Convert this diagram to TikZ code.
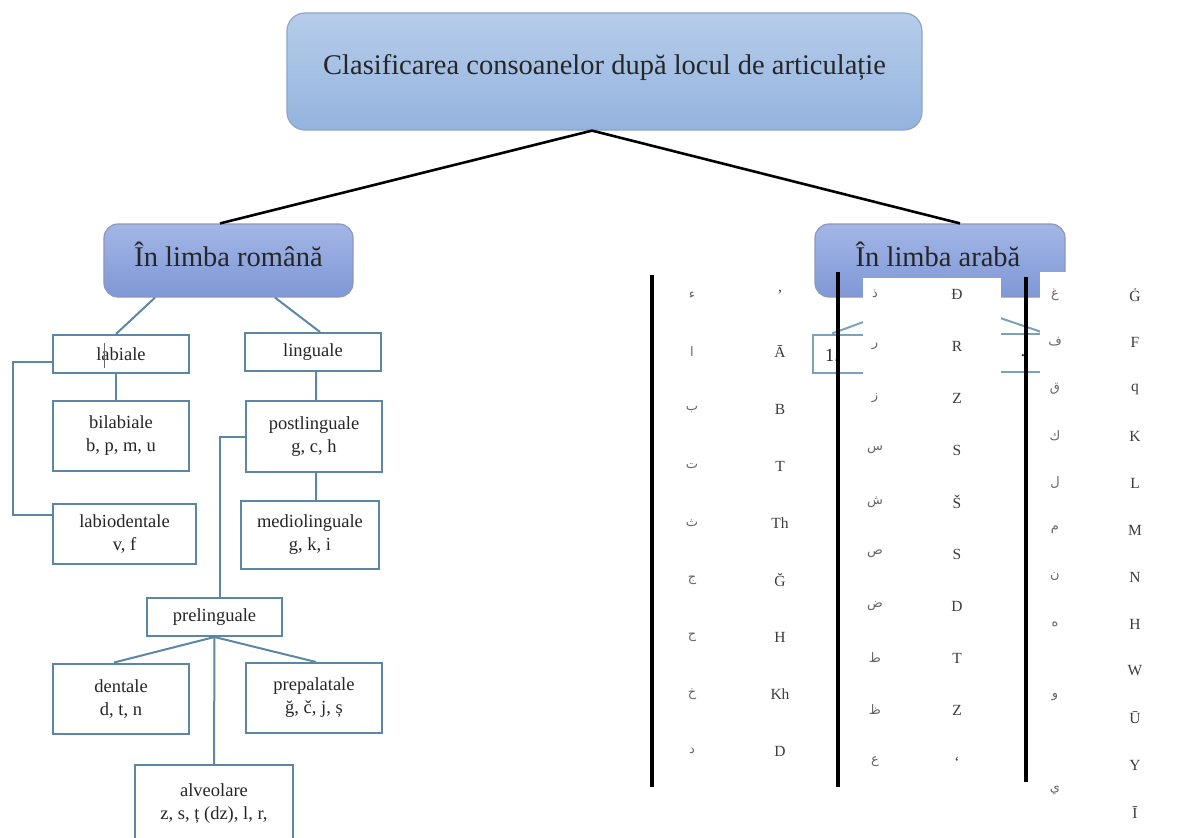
\documentclass[tikz,border=0pt]{standalone}
\usepackage{fontspec}
\setmainfont{Liberation Serif}
\newfontfamily\arabicfont[Script=Arabic]{DejaVu Sans}
\TeXXeTstate=1
\definecolor{titletop}{HTML}{B6CDEA}
\definecolor{titlebot}{HTML}{94B3DF}
\definecolor{titleedge}{HTML}{8EA6C6}
\definecolor{langtop}{HTML}{A3B6E6}
\definecolor{langbot}{HTML}{7F97D6}
\definecolor{langedge}{HTML}{8C98BC}
\definecolor{steel}{HTML}{5B87A5}
\definecolor{paleline}{HTML}{7AA2BC}
\definecolor{latgray}{HTML}{3C3C3C}
\definecolor{argray}{HTML}{666666}
\begin{document}
\begin{tikzpicture}[x=1bp,y=-1bp,
  titlebox/.style={draw=titleedge, line width=1.2bp, rounded corners=18bp,
    top color=titletop, bottom color=titlebot, inner sep=0pt},
  langbox/.style={draw=langedge, line width=1.2bp, rounded corners=14bp,
    top color=langtop, bottom color=langbot, inner sep=0pt},
  bigtext/.style={font=\fontsize{28.5bp}{34bp}\selectfont, text=black!85, inner sep=0pt},
  leaf/.style={draw=steel, line width=2bp, fill=white, inner sep=0pt, align=center,
    font=\fontsize{18.5bp}{23bp}\selectfont, text=black!85},
  conn/.style={draw=steel, line width=2bp},
  paleconn/.style={draw=paleline, line width=2bp},
  topline/.style={draw=black, line width=2.6bp},
  tabline/.style={draw=black, line width=4bp},
  lat/.style={font=\fontsize{15.5bp}{18bp}\selectfont, text=latgray, inner sep=0pt},
  arab/.style={font=\arabicfont\fontsize{13bp}{16bp}\selectfont, text=argray, inner sep=0pt},
  cover/.style={fill=white, draw=none}]
\useasboundingbox (0,0) rectangle (1200,838);
\clip (0,0) rectangle (1200,838);

% main heading and the two language branches
\node[titlebox, minimum width=635bp, minimum height=117bp] (title) at (604.5,71.5) {};
\node[bigtext] (titletext) at (604.5,67) {Clasificarea consoanelor după locul de articulație};
\node[langbox, minimum width=249bp, minimum height=73bp] (romana) at (228.5,260.5) {};
\node[bigtext] (romanatext) at (228.5,254) {În limba română};
\node[langbox, minimum width=250bp, minimum height=73bp] (araba) at (940,260.5) {};
\node[bigtext] (arabatext) at (938,254) {În limba arabă};

\draw[topline] ([xshift=-12.5bp]title.south) -- ([xshift=-8.5bp]romana.north);
\draw[topline] ([xshift=-12.5bp]title.south) -- ([xshift=20bp]araba.north);

% Romanian classification tree
\node[leaf, minimum width=136bp, minimum height=38bp] (labiale) at (121,354) {labiale};
\node[leaf, minimum width=136bp, minimum height=38bp] (linguale) at (313,352) {linguale};
\node[leaf, minimum width=136bp, minimum height=70bp] (bilabiale) at (121,436) {bilabiale\\b, p, m, u};
\node[leaf, minimum width=143bp, minimum height=60bp] (labiodentale) at (124.5,534) {labiodentale\\v, f};
\node[leaf, minimum width=136bp, minimum height=71bp] (postlinguale) at (314,436.5) {postlinguale\\g, c, h};
\node[leaf, minimum width=138bp, minimum height=68bp] (mediolinguale) at (310,535) {mediolinguale\\g, k, i};
\node[leaf, minimum width=135bp, minimum height=38bp] (prelinguale) at (214.5,617) {prelinguale};
\node[leaf, minimum width=136bp, minimum height=70bp] (dentale) at (121,698.5) {dentale\\d, t, n};
\node[leaf, minimum width=136bp, minimum height=70bp] (prepalatale) at (314,698) {prepalatale\\ğ, č, j, ș};
\node[leaf, minimum width=158bp, minimum height=78bp] (alveolare) at (214,804) {alveolare\\z, s, ț (dz), l, r,};
% caret mark inside the labiale box
\draw[black!60, line width=0.7bp] (104,343) -- (104,368);

\draw[conn] ([xshift=-73.5bp]romana.south) -- ([xshift=-5bp]labiale.north);
\draw[conn] ([xshift=46.5bp]romana.south) -- ([xshift=7bp]linguale.north);
\draw[conn] ([xshift=-5bp]labiale.south) -- ([xshift=-5bp]bilabiale.north);
\draw[conn] ([yshift=-8bp]labiale.west) -- ++(-39,0) |- ([yshift=19bp]labiodentale.west);
\draw[conn] ([xshift=3bp]linguale.south) -- ([xshift=2bp]postlinguale.north);
\draw[conn] ([xshift=2bp]postlinguale.south) -- ([xshift=6bp]mediolinguale.north);
\draw[conn] (postlinguale.west) -| ([xshift=5.5bp]prelinguale.north);
\draw[conn] (prelinguale.south) -- ([xshift=-7bp]dentale.north);
\draw[conn] (prelinguale.south) -- ([xshift=2bp]prepalatale.north);
\draw[conn] (prelinguale.south) -- (alveolare.north);

% Arabic branch (mostly hidden behind the letter table)
\node[leaf, draw=paleline, minimum width=130bp, minimum height=38bp] (arleft) at (878,353.5) {};
\node[leaf, draw=paleline, minimum width=140bp, minimum height=38bp] (arright) at (1030,352.5) {};
\draw[paleconn] ([xshift=-10bp]araba.south) -- ([xshift=-46bp]arleft.north);
\draw[paleconn] (araba.south) -- ([xshift=13bp]arright.north);
\node[leaf, draw=none, fill=none, anchor=west] (arlefttext) at (824,356) {1.};
\node[leaf, draw=none, fill=none] (arrighttext) at (1023,356) {.};

% letter table sheets
\fill[cover] (863,278) rectangle (1001,838);
\fill[cover] (1040,272) rectangle (1200,838);

% first column: Arabic letter and transliteration
\foreach \ar/\la [count=\i from 0] in {ء/’, ا/Ā, ب/B, ت/T, ث/Th, ج/Ğ, ح/H, خ/Kh, د/D}{
  \node[arab] (aa\i) at (692,295+57*\i) {\beginR\ar\endR};
  \node[lat] (la\i) at (780,295+57*\i) {\la};
}
% second column
\foreach \ar/\la [count=\i from 0] in {ذ/Đ, ر/R, ز/Z, س/S, ش/Š, ص/S, ض/D, ط/T, ظ/Z, ع/‘}{
  \node[arab] (ab\i) at (875,294+52*\i) {\beginR\ar\endR};
  \node[lat] (lb\i) at (957,294+52*\i) {\la};
}
% third column
\foreach \ar [count=\i from 0] in {غ, ف, ق, ك, ل, م, ن, ه}{
  \node[arab] (ac\i) at (1055,295+47*\i) {\beginR\ar\endR};
}
\node[arab] (acw) at (1055,697) {\beginR و\endR};
\node[arab] (acy) at (1055,790) {\beginR ي\endR};
\foreach \la [count=\i from 0] in {Ġ, F, q, K, L, M, N, H, W, Ū, Y, Ī}{
  \node[lat] (lc\i) at (1135,295+47*\i) {\la};
}

% column rules
\draw[tabline] (652,275) -- (652,787);
\draw[tabline] (838,272) -- (838,787);
\draw[tabline] (1026,277) -- (1026,782);
\end{tikzpicture}
\end{document}
